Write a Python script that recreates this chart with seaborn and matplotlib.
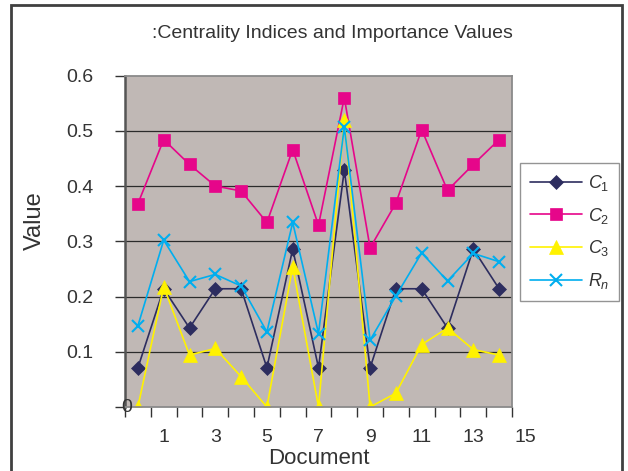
import numpy as np
import pandas as pd
import seaborn as sns
import matplotlib.pyplot as plt
from matplotlib.patches import Rectangle
from matplotlib.transforms import blended_transform_factory

# data
documents = list(range(15))
c1 = [0.071, 0.214, 0.143, 0.214, 0.214, 0.071, 0.286, 0.071, 0.429, 0.071, 0.214, 0.214, 0.143, 0.286, 0.214]
c2 = [0.368, 0.484, 0.439, 0.400, 0.391, 0.334, 0.466, 0.329, 0.560, 0.288, 0.369, 0.502, 0.392, 0.439, 0.484]
c3 = [0.0, 0.218, 0.094, 0.106, 0.055, 0.0, 0.254, 0.0, 0.519, 0.0, 0.025, 0.113, 0.143, 0.104, 0.094]
rn = [0.147, 0.302, 0.227, 0.240, 0.219, 0.136, 0.334, 0.133, 0.507, 0.121, 0.201, 0.279, 0.228, 0.278, 0.263]

series_names = [r'$\mathit{C_1}$', r'$\mathit{C_2}$', r'$\mathit{C_3}$', r'$\mathit{R_n}$']
series_vals = [c1, c2, c3, rn]
colors = ['#2d2d5f', '#e6068a', '#fff200', '#00aeef']
markers = ['D', 's', '^', 'x']
msizes = [7.5, 8.5, 9.5, 9]

x_labels = [1, 3, 5, 7, 9, 11, 13, 15]
y_ticks = [0, 0.1, 0.2, 0.3, 0.4, 0.5, 0.6]

sns.set_style('white')
plt.rcParams['font.family'] = ['Liberation Sans', 'DejaVu Sans']
plt.rcParams['mathtext.fontset'] = 'custom'
plt.rcParams['mathtext.it'] = 'Liberation Sans:italic'
plt.rcParams['mathtext.rm'] = 'Liberation Sans'
txt = '#333333'

fig = plt.figure(figsize=(6.28, 4.71), dpi=100)
ax = fig.add_axes([125/628, 1 - 407/471, (512 - 125)/628, (407 - 75.5)/471])
ax.set_facecolor('#c0b8b5')

for name, vals, col, mk, ms in zip(series_names, series_vals, colors, markers, msizes):
    df = pd.DataFrame({'Document': documents, 'Value': vals})
    sns.lineplot(data=df, x='Document', y='Value', ax=ax, color=col, marker=mk,
                 markersize=ms, markeredgecolor=col, markeredgewidth=1.5 if mk == 'x' else 0.5,
                 linewidth=1.2, label=name)

ax.set_xlim(-0.5, 14.5)
ax.set_ylim(0, 0.6)
ax.set_yticks(y_ticks)
ax.set_yticklabels([''] + [f'{v:.1f}' for v in y_ticks[1:]])
ax.tick_params(axis='y', direction='out', length=7, width=1, color='#333333',
               labelsize=14, labelcolor=txt, pad=16, left=True)
ax.text(-0.45, 0, '0', ha='center', va='center', fontsize=14, color=txt)

ax.set_xticks(np.arange(-0.5, 15, 1.0))
ax.set_xticklabels([])
ax.tick_params(axis='x', direction='out', length=7, width=1, color='#333333', bottom=True)
trans = blended_transform_factory(ax.transData, ax.transAxes)
for lab in x_labels:
    ax.text(lab, -0.093, str(lab), transform=trans, ha='center', va='center',
            fontsize=14, color=txt, clip_on=False)

for v in y_ticks[1:-1]:
    ax.axhline(v, color='#2b2b2b', linewidth=0.9, zorder=0.5)

for side in ['top', 'right', 'bottom']:
    ax.spines[side].set_color('#8a8a8a')
    ax.spines[side].set_linewidth(1.3)
ax.spines['left'].set_color('#555555')
ax.spines['left'].set_linewidth(1.8)

ax.set_xlabel('Document', fontsize=16, color=txt)
ax.set_ylabel('Value', fontsize=17, color=txt)
ax.xaxis.set_label_coords(0.5, -0.124)
ax.yaxis.set_label_coords(-0.205, 0.561)
fig.text(332/628, 1 - 33/471, ':Centrality Indices and Importance Values',
         ha='center', va='center', fontsize=14, color=txt)

leg = ax.legend(loc='upper left', bbox_to_anchor=(520/628, 1 - 163/471),
                bbox_transform=fig.transFigure, fontsize=13, frameon=True,
                fancybox=False, edgecolor='#7a7a7a', borderpad=0.55,
                handlelength=2.9, labelspacing=0.7, handletextpad=0.3, borderaxespad=0)
leg.get_frame().set_linewidth(1.0)
for t in leg.get_texts():
    t.set_color(txt)

fig.patches.append(Rectangle((11/628, -0.02), (622 - 11)/628, 1.02 - 5/471,
                             transform=fig.transFigure, fill=False,
                             edgecolor='#404040', linewidth=2))

fig.savefig('out.png', dpi=100)
